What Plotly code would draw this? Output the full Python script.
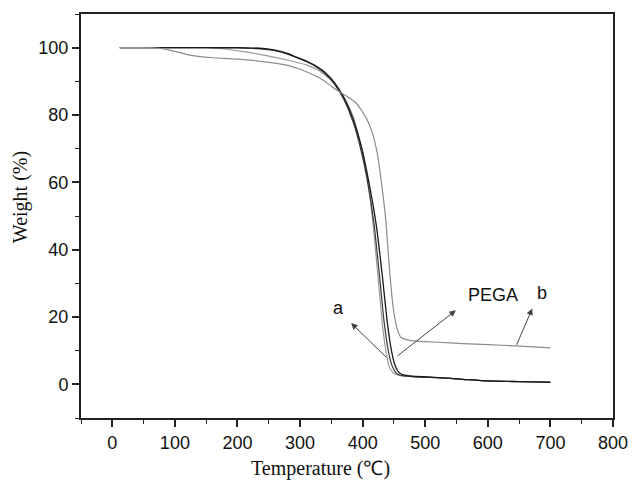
import plotly.graph_objects as go

# ---- data (Temperature in °C, Weight in %) ----
a1_T = [12, 60, 150, 180, 210, 242, 283, 310, 330, 350, 370, 385, 400, 410, 418, 425, 432, 438, 443, 450, 460, 480, 520, 560, 600, 650, 700]
a1_W = [100, 100, 100, 99.6, 98.8, 97.8, 96.2, 94.9, 93.2, 90.3, 85.3, 79.5, 69, 58, 45, 31, 17, 9, 5, 3.2, 2.6, 2.3, 2.0, 1.5, 1.0, 0.8, 0.7]

a2_T = [12, 60, 150, 200, 230, 260, 280, 294, 310, 325, 340, 355, 370, 385, 398, 408, 418, 426, 434, 441, 447, 453, 460, 480, 520, 560, 600, 650, 700]
a2_W = [100, 100, 100, 99.9, 99.7, 99.1, 98.1, 97.1, 95.9, 94.4, 92.3, 89.2, 84.6, 77.8, 69, 60, 48, 34, 19, 10, 5.5, 3.5, 2.7, 2.3, 2.0, 1.5, 1.0, 0.8, 0.7]

pega_T = [12, 60, 150, 200, 240, 260, 280, 294, 310, 325, 340, 355, 370, 385, 398, 410, 422, 431, 439, 446, 452, 458, 465, 480, 520, 560, 600, 650, 700]
pega_W = [100, 100, 100, 100, 99.8, 99.3, 98.3, 97.2, 96.0, 94.6, 92.6, 89.6, 85.2, 78.6, 70.5, 60, 47, 33, 19, 10, 5.5, 3.5, 2.8, 2.4, 2.0, 1.5, 1.0, 0.8, 0.6]

b_T = [12, 60, 80, 100, 126, 160, 200, 231, 260, 283, 300, 325, 336, 351, 361, 377, 390, 398, 406, 415, 424, 432, 437, 443, 448, 452, 456, 461, 470, 482, 520, 560, 600, 645, 700]
b_W = [100, 100, 99.7, 98.9, 97.7, 97.0, 96.6, 96.1, 95.4, 94.6, 93.6, 91.6, 90.5, 88.4, 87.1, 85.3, 83.5, 81.4, 79, 75, 68, 57, 48.7, 34, 24, 19, 16, 14, 13.3, 12.9, 12.5, 12.1, 11.8, 11.4, 10.8]

# labels with arrows: text, label position, arrow tail, arrow head
label_text = ["a", "PEGA", "b"]
label_T = [361.7, 607.5, 687]
label_W = [22.8, 26.5, 27.2]
arrow_tail_T = [440.2, 453.3, 645]
arrow_tail_W = [7.6, 8.1, 11.3]
arrow_head_T = [381.6, 549, 671]
arrow_head_W = [18.2, 22.0, 22.5]

x_ticks = [0, 100, 200, 300, 400, 500, 600, 700, 800]
y_ticks = [0, 20, 40, 60, 80, 100]

fig = go.Figure()
series = [
    (a1_T, a1_W, "#9a9a9a", 1.2),
    (a2_T, a2_W, "#3a3a3a", 1.2),
    (pega_T, pega_W, "#1a1a1a", 1.3),
    (b_T, b_W, "#8c8c8c", 1.2),
]
for T, W, c, w in series:
    fig.add_trace(go.Scatter(x=T, y=W, mode="lines",
                             line=dict(color=c, width=w, shape="spline", smoothing=0.5),
                             showlegend=False, hoverinfo="skip"))

for i in range(len(label_text)):
    fig.add_annotation(x=arrow_head_T[i], y=arrow_head_W[i],
                       ax=arrow_tail_T[i], ay=arrow_tail_W[i],
                       xref="x", yref="y", axref="x", ayref="y",
                       showarrow=True, arrowhead=2, arrowsize=1.3, arrowwidth=1,
                       arrowcolor="#444444", text="")
    fig.add_annotation(x=label_T[i], y=label_W[i], xref="x", yref="y",
                       text=label_text[i], showarrow=False,
                       font=dict(family="Liberation Sans, Arial", size=18, color="#111111"))

axis_common = dict(showline=True, linecolor="#222222", linewidth=2, mirror=True,
                   ticks="outside", ticklen=7, tickwidth=1.5, tickcolor="#222222",
                   showgrid=False, zeroline=False,
                   tickfont=dict(family="Liberation Sans, Arial", size=18, color="#111111"))

fig.update_xaxes(range=[-50, 800], tickvals=x_ticks,
                 minor=dict(dtick=50, tick0=0, ticks="outside", ticklen=4, tickwidth=1.2, tickcolor="#222222"),
                 **axis_common)
fig.update_yaxes(range=[-10, 110], tickvals=y_ticks,
                 minor=dict(dtick=10, tick0=0, ticks="outside", ticklen=4, tickwidth=1.2, tickcolor="#222222"),
                 **axis_common)

# axis titles placed as annotations to match reference position (pixel -> paper)
ML, MR, MT, MB = 81, 17, 14, 63
pw = 640 - ML - MR
ph = 481 - MT - MB
fig.add_annotation(x=(325 - ML) / pw, y=1 - (468 - MT) / ph, xref="paper", yref="paper",
                   text="Temperature (℃)",
                   showarrow=False, xanchor="center", yanchor="middle",
                   font=dict(family="Liberation Serif, Times New Roman", size=20, color="#111111"))
fig.add_annotation(x=(20 - ML) / pw, y=1 - (197 - MT) / ph, xref="paper", yref="paper",
                   text="Weight (%)", textangle=-90,
                   showarrow=False, xanchor="center", yanchor="middle",
                   font=dict(family="Liberation Serif, Times New Roman", size=20, color="#111111"))

fig.update_layout(width=640, height=481,
                  margin=dict(l=ML, r=MR, t=MT, b=MB),
                  plot_bgcolor="white", paper_bgcolor="white")

fig.write_html("out.html", config={"displayModeBar": False},
               post_script="document.body.style.margin='0';document.body.style.padding='0';")
